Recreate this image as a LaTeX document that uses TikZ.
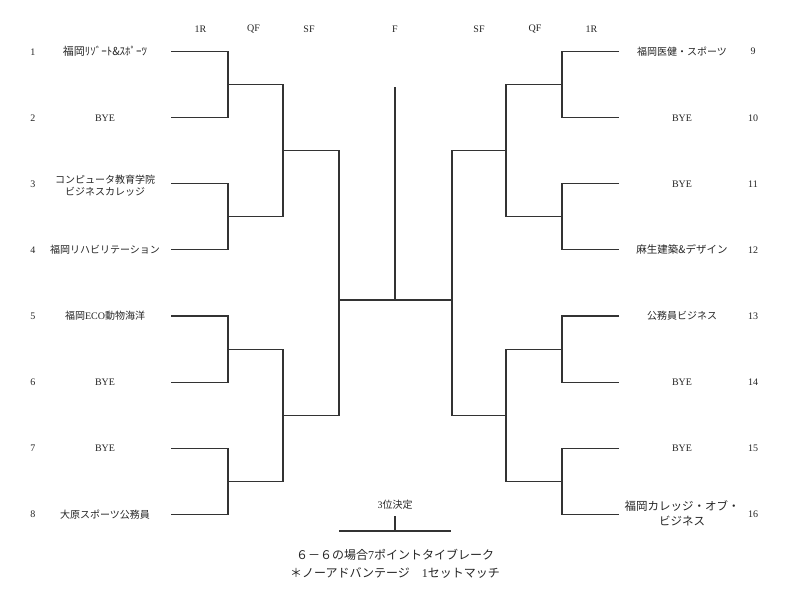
\documentclass[tikz,border=0pt]{standalone}
\usepackage{fontspec}
\setmainfont{Liberation Serif}
\newfontfamily\cjk{Noto Sans CJK JP}
\newcommand{\rmtxt}[1]{{\rmfamily #1}}
\begin{document}
\begin{tikzpicture}[x=1pt,y=-1pt,
  br/.style={line width=1.1pt, draw=black!80},
  num/.style={font=\fontsize{10}{12}\selectfont, inner sep=0pt, text=black!85},
  team/.style={font=\cjk\fontsize{10}{12}\selectfont, inner sep=0pt, align=center, text=black!85},
  byebox/.style={font=\fontsize{10}{12}\selectfont, inner sep=0pt, text=black!85},
  hdr/.style={font=\fontsize{10}{12}\selectfont, inner sep=0pt, text=black!85}]
\useasboundingbox[fill=white] (0,0) rectangle (800,608);

% headers
\node[hdr] (h1) at (200.5,29) {1R};
\node[hdr] (h2) at (253.5,29) {QF};
\node[hdr] (h3) at (309,29) {SF};
\node[hdr] (h4) at (395,29) {F};
\node[hdr] (h5) at (479,29) {SF};
\node[hdr] (h6) at (535,29) {QF};
\node[hdr] (h7) at (591.5,29) {1R};

% entry coordinates and numbers
\foreach \i/\y in {1/51.7,2/117.8,3/183.9,4/249.9,5/316.0,6/382.1,7/448.2,8/514.3}{
  \coordinate (la\i) at (171,\y);
  \node[num] (ln\i) at (33,\y) {\i};
}
\foreach \i/\y in {9/51.7,10/117.8,11/183.9,12/249.9,13/316.0,14/382.1,15/448.2,16/514.3}{
  \coordinate (ra\i) at (619,\y);
  \node[num] (rn\i) at (753,\y) {\i};
}

% left team names
\node[team, font=\cjk\fontsize{11}{12}\selectfont] (lt1) at (105,51.7) {福岡ﾘｿﾞｰﾄ\&ｽﾎﾟｰﾂ};
\node[byebox] (lt2) at (105,117.8) {BYE};
\node[team] (lt3) at (105,185.5) {コンピュータ教育学院\\ビジネスカレッジ};
\node[team] (lt4) at (105,249.9) {福岡リハビリテーション};
\node[team] (lt5) at (105,316.0) {福岡\rmtxt{ECO}動物海洋};
\node[byebox] (lt6) at (105,382.1) {BYE};
\node[byebox] (lt7) at (105,448.2) {BYE};
\node[team] (lt8) at (105,514.3) {大原スポーツ公務員};

% right team names
\node[team] (rt9) at (682,51.7) {福岡医健・スポーツ};
\node[byebox] (rt10) at (682,117.8) {BYE};
\node[byebox] (rt11) at (682,183.9) {BYE};
\node[team, font=\cjk\fontsize{10.5}{12}\selectfont] (rt12) at (682,249.9) {麻生建築\&デザイン};
\node[team] (rt13) at (682,316.0) {公務員ビジネス};
\node[byebox] (rt14) at (682,382.1) {BYE};
\node[byebox] (rt15) at (682,448.2) {BYE};
\node[team, font=\cjk\fontsize{11.5}{15}\selectfont] (rt16) at (682,513) {福岡カレッジ・オブ・\\ビジネス};

% junction coordinates
\coordinate (lm1) at (228,84.75);
\coordinate (lm2) at (228,216.9);
\coordinate (lm3) at (228,349.05);
\coordinate (lm4) at (228,481.25);
\coordinate (lq1) at (283,150.8);
\coordinate (lq2) at (283,415.2);
\coordinate (ls) at (339,300);
\coordinate (rm1) at (562,84.75);
\coordinate (rm2) at (562,216.9);
\coordinate (rm3) at (562,349.05);
\coordinate (rm4) at (562,481.25);
\coordinate (rq1) at (506,150.8);
\coordinate (rq2) at (506,415.2);
\coordinate (rs) at (452,300);
\coordinate (fT) at (395,87);
\coordinate (fB) at (395,300);

% left bracket
\draw[br] (la1) -| (lm1) |- (la2);
\draw[br] (la3) -| (lm2) |- (la4);
\draw[br] (la5) -| (lm3) |- (la6);
\draw[br] (la7) -| (lm4) |- (la8);
\draw[br] (lm1) -| (lq1) |- (lm2);
\draw[br] (lm3) -| (lq2) |- (lm4);
\draw[br] (lq1) -| (ls) |- (lq2);

% right bracket
\draw[br] (ra9) -| (rm1) |- (ra10);
\draw[br] (ra11) -| (rm2) |- (ra12);
\draw[br] (ra13) -| (rm3) |- (ra14);
\draw[br] (ra15) -| (rm4) |- (ra16);
\draw[br] (rm1) -| (rq1) |- (rm2);
\draw[br] (rm3) -| (rq2) |- (rm4);
\draw[br] (rq1) -| (rs) |- (rq2);

% final
\draw[br] (ls) -- (rs);
\draw[br] (fT) -- (fB);

% third place
\node[team] (third) at (395,505) {\rmtxt{3}位決定};
\coordinate (tT) at (395,516);
\coordinate (tM) at (395,531);
\coordinate (tL) at (339,531);
\coordinate (tR) at (451,531);
\draw[br] (tT) -- (tM);
\draw[br] (tL) -- (tR);

% note
\node[team, font=\cjk\fontsize{12}{18}\selectfont] (note) at (395,564) {６－６の場合\rmtxt{7}ポイントタイブレーク\\＊ノーアドバンテージ　\rmtxt{1}セットマッチ};
\end{tikzpicture}
\end{document}
